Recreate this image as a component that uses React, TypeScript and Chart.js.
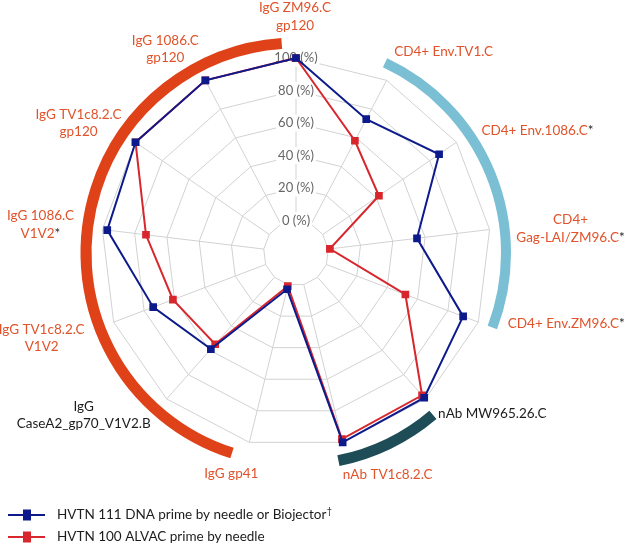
import React, { useEffect, useRef } from 'react';
import { Chart, registerables } from 'chart.js';

Chart.register(...registerables);

// ---- data ----
const AXIS_LABELS: string[][] = [
  ['IgG ZM96.C', 'gp120'],
  ['CD4+ Env.TV1.C'],
  ['CD4+ Env.1086.C*'],
  ['CD4+', 'Gag-LAI/ZM96.C*'],
  ['CD4+ Env.ZM96.C*'],
  ['nAb MW965.26.C'],
  ['nAb TV1c8.2.C'],
  ['IgG gp41'],
  ['IgG', 'CaseA2_gp70_V1V2.B'],
  ['IgG TV1c8.2.C', 'V1V2'],
  ['IgG 1086.C', 'V1V2*'],
  ['IgG TV1c8.2.C', 'gp120'],
  ['IgG 1086.C', 'gp120'],
];
const LABEL_IS_DARK = [false, false, false, false, false, true, false, false, true, false, false, false, false];

const HVTN111_DNA = [100, 73, 87, 55, 90, 99, 100, 3, 59, 74, 97, 100, 100];
const HVTN100_ALVAC = [100, 58, 42, 1, 52, 97, 98, 1, 55, 61, 73, 100, 100];

const SERIES_NAMES = ['HVTN 111 DNA prime by needle or Biojector', 'HVTN 100 ALVAC prime by needle'];
const SERIES_SUFFIX = ['†', ''];

const SCALE_MIN = -20;
const SCALE_MAX = 100;
const SCALE_STEP = 20;

// ---- styles / layout ----
const BLUE = '#0c1a8c';
const RED = '#d8262d';
const LABEL_ORANGE = '#e0532b';
const DARK = '#1c1c1c';
const GRID = '#d2d2d2';
const FONT = 'Lato';

// label block centre offsets from outer vertex of each axis
const LABEL_SHIFT: [number, number][] = [
  [-1, -41.5], [57, -29], [81, -12], [81, -1], [88, 1], [67, 15], [45, 32],
  [-18, 31], [-83, 16], [-72, 16], [-62, -5], [-57, -19], [-40, -31],
];

// group arcs: start axis + deg offset, end axis + deg offset
const GROUP_ARCS = [
  { from: 7, fromDeg: 3.9, to: 13, toDeg: -3.9, color: '#df4119', width: 11, gap: 15 },
  { from: 1, fromDeg: -2.6, to: 4, toDeg: 0, color: '#7bbfd5', width: 10, gap: 15 },
  { from: 5, fromDeg: 1.3, to: 6, toDeg: 2.3, color: '#1f4d57', width: 11, gap: 17 },
];

const decorPlugin = {
  id: 'decor',
  beforeDraw(chart: any) {
    const s = chart.scales.r;
    const ctx = chart.ctx;
    const n = AXIS_LABELS.length;
    ctx.save();
    ctx.strokeStyle = GRID;
    ctx.lineWidth = 1;
    for (let i = 0; i < n; i++) {
      const a = s.getPointPositionForValue(i, 0);
      const b = s.getPointPositionForValue(i, SCALE_MAX);
      ctx.beginPath();
      ctx.moveTo(a.x, a.y);
      ctx.lineTo(b.x, b.y);
      ctx.stroke();
    }
    ctx.restore();
  },
  afterDraw(chart: any) {
    const s = chart.scales.r;
    const ctx = chart.ctx;
    const n = AXIS_LABELS.length;
    const cx = s.xCenter;
    const cy = s.yCenter;
    const step = (Math.PI * 2) / n;
    const d2r = Math.PI / 180;
    ctx.save();
    // arcs
    for (const g of GROUP_ARCS) {
      const a1 = g.from * step + g.fromDeg * d2r - Math.PI / 2;
      const a2 = g.to * step + g.toDeg * d2r - Math.PI / 2;
      ctx.beginPath();
      ctx.strokeStyle = g.color;
      ctx.lineWidth = g.width;
      ctx.lineCap = 'butt';
      ctx.arc(cx, cy, s.drawingArea + g.gap, a1, a2, false);
      ctx.stroke();
    }
    // axis labels
    ctx.font = `13.5px ${FONT}`;
    ctx.textBaseline = 'middle';
    ctx.textAlign = 'left';
    const lh = 17.5;
    for (let i = 0; i < n; i++) {
      const p = s.getPointPosition(i, s.drawingArea);
      const bx = p.x + LABEL_SHIFT[i][0];
      const by = p.y + LABEL_SHIFT[i][1];
      const lines = AXIS_LABELS[i];
      lines.forEach((line, k) => {
        const y = by + (k - (lines.length - 1) / 2) * lh;
        let main = line;
        let star = '';
        if (line.endsWith('*')) {
          main = line.slice(0, -1);
          star = '*';
        }
        const wMain = ctx.measureText(main).width;
        const wStar = star ? ctx.measureText(star).width : 0;
        const x0 = bx - (wMain + wStar) / 2;
        ctx.fillStyle = LABEL_IS_DARK[i] ? DARK : LABEL_ORANGE;
        ctx.fillText(main, x0, y);
        if (star) {
          ctx.fillStyle = DARK;
          ctx.fillText(star, x0 + wMain, y);
        }
      });
    }
    // legend
    const ds = chart.data.datasets;
    const legendY = [515, 537];
    ds.forEach((d: any, i: number) => {
      const y = legendY[i];
      ctx.strokeStyle = d.borderColor;
      ctx.lineWidth = 2;
      ctx.beginPath();
      ctx.moveTo(8, y);
      ctx.lineTo(45, y);
      ctx.stroke();
      ctx.fillStyle = d.borderColor;
      ctx.fillRect(23, y - 5.5, 8, 11);
      ctx.fillStyle = DARK;
      ctx.font = `13.5px ${FONT}`;
      ctx.textBaseline = 'middle';
      ctx.fillText(SERIES_NAMES[i], 57, y);
      if (SERIES_SUFFIX[i]) {
        const w = ctx.measureText(SERIES_NAMES[i]).width;
        ctx.font = `9px ${FONT}`;
        ctx.fillText(SERIES_SUFFIX[i], 57 + w + 0.5, y - 4);
      }
    });
    ctx.restore();
  },
};

export default function App() {
  const ref = useRef<HTMLCanvasElement>(null);
  useEffect(() => {
    if (!ref.current) return;
    const chart = new Chart(ref.current, {
      type: 'radar',
      data: {
        labels: AXIS_LABELS.map((l) => l.join(' ')),
        datasets: [
          {
            label: SERIES_NAMES[0],
            data: HVTN111_DNA,
            borderColor: BLUE,
            backgroundColor: BLUE,
            pointBackgroundColor: BLUE,
            pointBorderColor: BLUE,
            borderWidth: 2,
            pointStyle: 'rect',
            pointRadius: 4,
            fill: false,
            tension: 0,
          },
          {
            label: SERIES_NAMES[1],
            data: HVTN100_ALVAC,
            borderColor: RED,
            backgroundColor: RED,
            pointBackgroundColor: RED,
            pointBorderColor: RED,
            borderWidth: 2,
            pointStyle: 'rect',
            pointRadius: 4,
            fill: false,
            tension: 0,
          },
        ],
      },
      options: {
        responsive: false,
        animation: false,
        layout: { padding: { top: 49, bottom: 94, left: 0, right: 33 } },
        plugins: { legend: { display: false }, tooltip: { enabled: false } },
        scales: {
          r: {
            min: SCALE_MIN,
            max: SCALE_MAX,
            angleLines: { display: false },
            grid: { color: GRID, lineWidth: 1 },
            pointLabels: { display: false },
            ticks: {
              stepSize: SCALE_STEP,
              color: '#666666',
              font: { family: FONT, size: 13 },
              backdropColor: '#ffffff',
              backdropPadding: 2,
              callback: (v: any) => (Number(v) >= 0 ? `${v} (%)` : ''),
            },
          },
        },
      },
      plugins: [decorPlugin],
    });
    return () => chart.destroy();
  }, []);
  return (
    <div style={{ position: 'fixed', left: 0, top: 0, width: 625, height: 551, background: '#fff' }}>
      <canvas ref={ref} width={625} height={551} style={{ display: 'block' }} />
    </div>
  );
}
